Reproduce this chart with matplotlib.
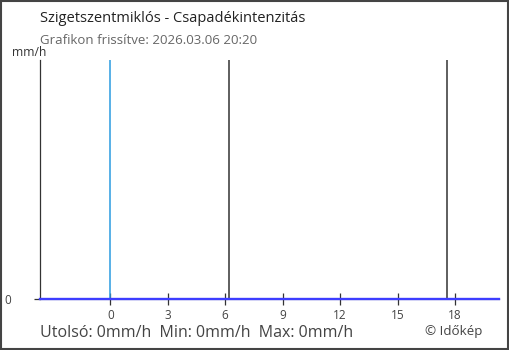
import matplotlib.pyplot as plt
from matplotlib.patches import Rectangle

plt.rcParams['font.family'] = ['Open Sans', 'DejaVu Sans']

# time in hours relative to midnight, rain intensity in mm/h
hours = [-3.67, -3, -2, -1, 0, 3, 6, 9, 12, 15, 18, 20.3]
rain = [0, 0, 0, 0, 0, 0, 0, 0, 0, 0, 0, 0]
xticks = [0, 3, 6, 9, 12, 15, 18]
midnight = 0
sunrise = 6.2
sunset = 17.6

title = "Szigetszentmiklós - Csapadékintenzitás"
subtitle = "Grafikon frissítve: 2026.03.06 20:20"
footer = "Utolsó: 0mm/h  Min: 0mm/h  Max: 0mm/h"

fig = plt.figure(figsize=(5.1, 3.5), dpi=100)
ax = fig.add_axes([40/510, 51/350, 459/510, 239/350])

ax.axvline(midnight, color='#2a9be0', lw=1.1, zorder=2)
ax.axvline(sunrise, color='#333333', lw=1.1, zorder=2)
ax.axvline(sunset, color='#333333', lw=1.1, zorder=2)
ax.plot(hours, rain, color='#3d3dff', lw=1.7, zorder=3, clip_on=False)

ax.set_xlim(-3.67, 20.3)
ax.set_ylim(0, 1)
ax.set_xticks(xticks)
ax.set_yticks([0])
ax.tick_params(axis='x', direction='inout', length=9, width=0.9, color='#333333',
               labelsize=8.5, labelcolor='#444444', pad=3)
ax.tick_params(axis='y', direction='out', length=4.5, width=0.9, color='#333333',
               labelsize=8.5, labelcolor='#444444')
for lab in ax.get_yticklabels():
    lab.set_horizontalalignment('left')
ax.tick_params(axis='y', pad=21)

for s in ['top', 'right']:
    ax.spines[s].set_visible(False)
ax.spines['left'].set_color('#333333')
ax.spines['bottom'].set_color('#333333')
ax.spines['left'].set_linewidth(0.9)

fig.text(40/510, 1 - 19/350, title, fontsize=10.5, color='#222222', va='center')
fig.text(40/510, 1 - 40/350, subtitle, fontsize=9.5, color='#666666', va='center')
fig.text(12/510, 1 - 52/350, "mm/h", fontsize=8.7, color='#333333', va='center')
fig.text(40/510, 1 - 333/350, footer, fontsize=11.5, color='#444444', va='center')
fig.text(425/510, 1 - 331/350, "© Időkép", fontsize=9.6, color='#444444', va='center')

fig.patches.append(Rectangle((0.001, 0.002), 0.996, 0.995, transform=fig.transFigure,
                             fill=False, edgecolor='#444444', lw=1.5))

fig.savefig('out.png', dpi=100)
